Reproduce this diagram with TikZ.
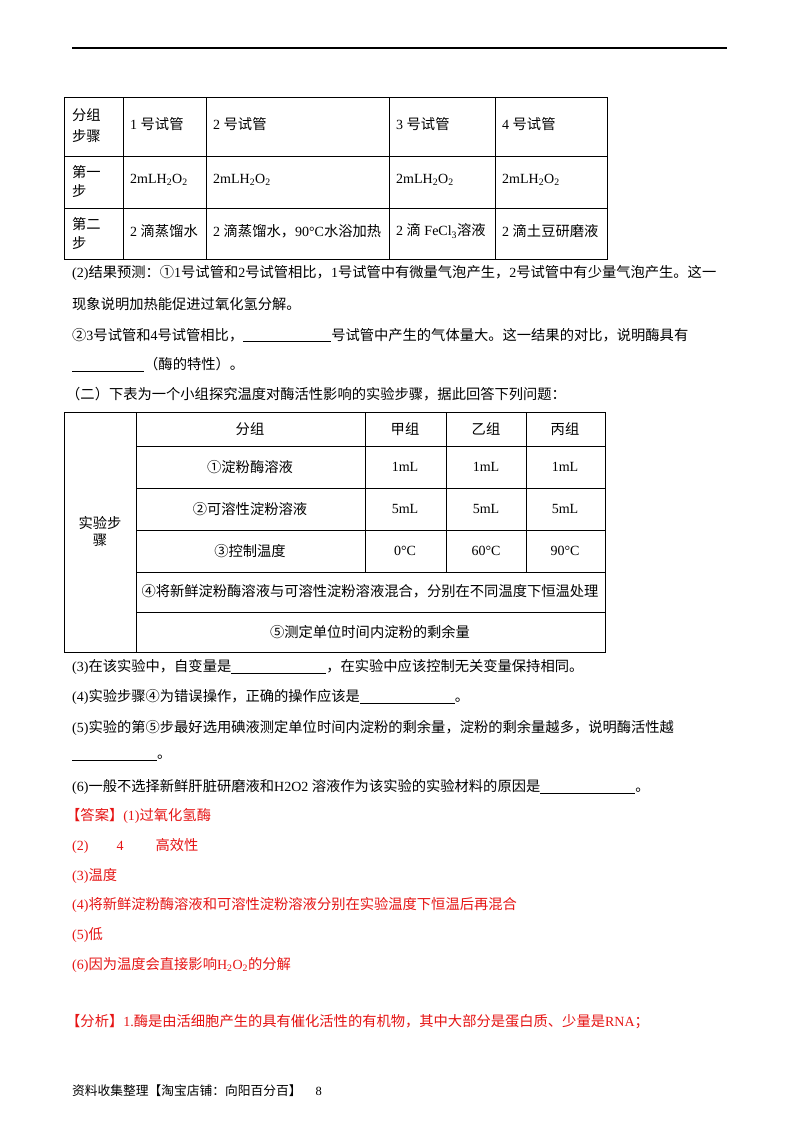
\documentclass[tikz,border=0pt]{standalone}
\usepackage{fontspec}
\setmainfont{Liberation Serif}
\newfontfamily\cjk{Noto Sans CJK SC}[Scale=1.02]
\usepackage{xcolor}
\definecolor{ans}{RGB}{230,20,20}
\newcommand{\blk}[1]{\rule[-2pt]{#1pt}{0.6pt}}
\newcommand{\cj}[1]{{\cjk #1}}
\begin{document}
\begin{tikzpicture}[x=1pt,y=-1pt,
  tx/.style={anchor=west,inner sep=0pt,font=\fontsize{14}{16}\selectfont},
  cc/.style={anchor=center,inner sep=0pt,font=\fontsize{14}{16}\selectfont,align=center},
  tl/.style={line width=1pt}]
\useasboundingbox (0,0) rectangle (800,1132);
\fill[white] (0,0) rectangle (800,1132);
\draw[line width=1.2pt] (72,48) coordinate(r1) -- (727,48) coordinate(r2);
% table 1
\draw[tl] (64,97) rectangle (607,259);
\foreach \y in {156,208} \draw[tl] (64,\y) -- (607,\y);
\foreach \x in {123,206,389,495} \draw[tl] (\x,97) -- (\x,259);
\node[tx,align=left] (a1) at (72,126) {\cj{分组}\\[5pt]\cj{步骤}};
\node[tx] (a2) at (130,124) {1 \cj{号试管}};
\node[tx] (a3) at (213,124) {2 \cj{号试管}};
\node[tx] (a4) at (396,124) {3 \cj{号试管}};
\node[tx] (a5) at (502,124) {4 \cj{号试管}};
\node[tx,align=left] (b1) at (72,182) {\cj{第一}\\[3pt]\cj{步}};
\foreach \x/\n in {130/b2,213/b3,396/b4,502/b5} \node[tx] (\n) at (\x,180) {2mLH\textsubscript{2}O\textsubscript{2}};
\node[tx,align=left] (c1) at (72,233) {\cj{第二}\\[3pt]\cj{步}};
\node[tx] (c2) at (130,231) {2 \cj{滴蒸馏水}};
\node[tx] (c3) at (213,231) {2 \cj{滴蒸馏水，}90°C\cj{水浴加热}};
\node[tx] (c4) at (396,231) {2 \cj{滴} FeCl\textsubscript{3}\cj{溶液}};
\node[tx] (c5) at (502,231) {2 \cj{滴土豆研磨液}};
% text
\node[tx] (t1) at (72,273) {(2)\cj{结果预测：①}1\cj{号试管和}2\cj{号试管相比，}1\cj{号试管中有微量气泡产生，}2\cj{号试管中有少量气泡产生。这一}};
\node[tx] (t2) at (72,304) {\cj{现象说明加热能促进过氧化氢分解。}};
\node[tx] (t3) at (72,335) {\cj{②}3\cj{号试管和}4\cj{号试管相比，}\blk{88}\cj{号试管中产生的气体量大。这一结果的对比，说明酶具有}};
\node[tx] (t4) at (72,364) {\blk{72}\cj{（酶的特性）。}};
\node[tx] (t5) at (66,394) {\cj{（二）下表为一个小组探究温度对酶活性影响的实验步骤，据此回答下列问题：}};
% table 2
\draw[tl] (64,412) rectangle (605,652);
\draw[tl] (136,412) -- (136,652);
\foreach \y in {446,488,530,572,612} \draw[tl] (136,\y) -- (605,\y);
\foreach \x in {365,446,526} \draw[tl] (\x,412) -- (\x,572);
\node[cc] (s0) at (100,531) {\cj{实验步}\\[1pt]\cj{骤}};
\node[cc] (h1) at (250,429) {\cj{分组}};
\node[cc] (h2) at (405,429) {\cj{甲组}};
\node[cc] (h3) at (486,429) {\cj{乙组}};
\node[cc] (h4) at (565,429) {\cj{丙组}};
\node[cc] (r11) at (250,467) {\cj{①淀粉酶溶液}};
\node[cc] (r12) at (405,467) {1mL};
\node[cc] (r13) at (486,467) {1mL};
\node[cc] (r14) at (565,467) {1mL};
\node[cc] (r21) at (250,509) {\cj{②可溶性淀粉溶液}};
\node[cc] (r22) at (405,509) {5mL};
\node[cc] (r23) at (486,509) {5mL};
\node[cc] (r24) at (565,509) {5mL};
\node[cc] (r31) at (250,551) {\cj{③控制温度}};
\node[cc] (r32) at (405,551) {0°C};
\node[cc] (r33) at (486,551) {60°C};
\node[cc] (r34) at (565,551) {90°C};
\node[cc] (r4) at (370,591) {\cj{④将新鲜淀粉酶溶液与可溶性淀粉溶液混合，分别在不同温度下恒温处理}};
\node[cc] (r5) at (370,632) {\cj{⑤测定单位时间内淀粉的剩余量}};
% questions
\node[tx] (q3) at (72,667) {(3)\cj{在该实验中，自变量是}\blk{95}\cj{，在实验中应该控制无关变量保持相同。}};
\node[tx] (q4) at (72,697) {(4)\cj{实验步骤④为错误操作，正确的操作应该是}\blk{95}\cj{。}};
\node[tx] (q5) at (72,728) {(5)\cj{实验的第⑤步最好选用碘液测定单位时间内淀粉的剩余量，淀粉的剩余量越多，说明酶活性越}};
\node[tx] (q5b) at (72,758) {\blk{85}\cj{。}};
\node[tx] (q6) at (72,787) {(6)\cj{一般不选择新鲜肝脏研磨液和}H2O2 \cj{溶液作为该实验的实验材料的原因是}\blk{95}\cj{。}};
\begin{scope}[every node/.append style={text=ans}]
\node[tx] (k1) at (66,816) {\cj{【答案】}(1)\cj{过氧化氢酶}};
\node[tx] (k2) at (72,846) {(2)\hspace{28pt}4\hspace{32pt}\cj{高效性}};
\node[tx] (k3) at (72,876) {(3)\cj{温度}};
\node[tx] (k4) at (72,905) {(4)\cj{将新鲜淀粉酶溶液和可溶性淀粉溶液分别在实验温度下恒温后再混合}};
\node[tx] (k5) at (72,935) {(5)\cj{低}};
\node[tx] (k6) at (72,965) {(6)\cj{因为温度会直接影响}H\textsubscript{2}O\textsubscript{2}\cj{的分解}};
\node[tx] (k7) at (66,1022) {\cj{【分析】}1.\cj{酶是由活细胞产生的具有催化活性的有机物，其中大部分是蛋白质、少量是}RNA\cj{；}};
\end{scope}
\node[tx,font=\fontsize{12.5}{14}\selectfont] (ft) at (72,1091) {\cj{资料收集整理【淘宝店铺：向阳百分百】}\hspace{14pt}8};
\end{tikzpicture}
\end{document}
